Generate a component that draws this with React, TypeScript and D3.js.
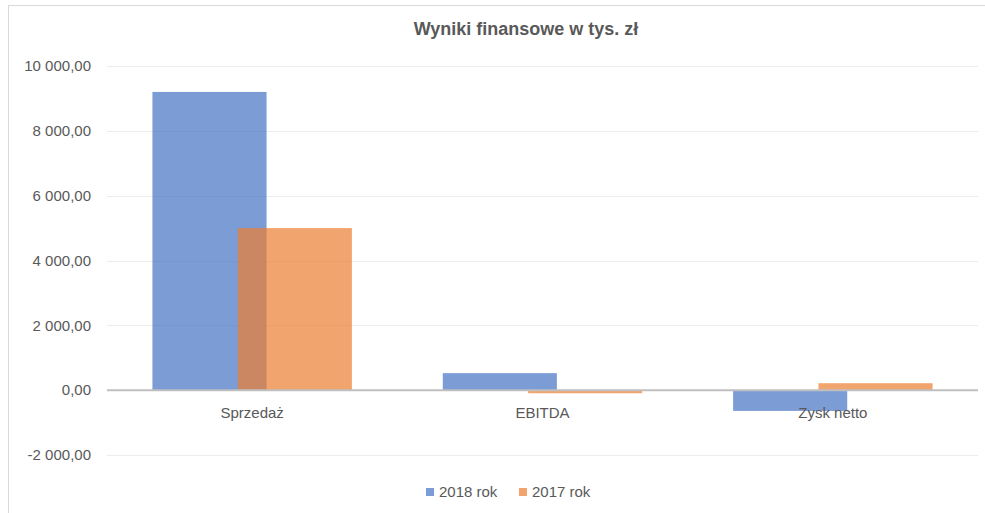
import React from "react";
import * as d3 from "d3";

const categories = ["Sprzedaż", "EBITDA", "Zysk netto"];
const series2018 = [9200, 525, -640];
const series2017 = [5000, -95, 215];
const seriesNames = ["2018 rok", "2017 rok"];
const yTicks = [-2000, 0, 2000, 4000, 6000, 8000, 10000];
const title = "Wyniki finansowe w tys. zł";

const W = 985;
const H = 513;
const plotLeft = 107;
const plotRight = 978;
const yTop = 66;
const yBottom = 455;
const colors = ["#4472C4", "#ED7D31"];
const FONT = "'Liberation Sans', Arial, sans-serif";

function fmt(v: number): string {
  const s = Math.abs(v).toFixed(2).replace(".", ",");
  const [int, dec] = s.split(",");
  const grouped = int.replace(/\B(?=(\d{3})+(?!\d))/g, " ");
  return (v < 0 ? "-" : "") + grouped + "," + dec;
}

export default function App() {
  const x = d3.scaleBand<string>().domain(categories).range([plotLeft, plotRight]).padding(0);
  const y = d3.scaleLinear().domain([-2000, 10000]).range([yBottom, yTop]);
  const step = x.step();
  const barW = step * 0.393;
  const offset = step * 0.147;
  const all = [series2018, series2017];

  return (
    <svg width={W} height={H} style={{ position: "absolute", left: 0, top: 0, background: "#fff" }}>
      <rect x={8.5} y={5.5} width={W} height={H} fill="#fff" stroke="#d9d9d9" strokeWidth={1} />
      <text x={526} y={35} textAnchor="middle" fontFamily={FONT} fontWeight="bold" fontSize={18} fill="#595959">
        {title}
      </text>
      {yTicks.map((t) => (
        <g key={t}>
          {t !== 0 && (
            <line x1={plotLeft} x2={plotRight} y1={Math.round(y(t)) + 0.5} y2={Math.round(y(t)) + 0.5} stroke="#ececec" strokeWidth={1} />
          )}
          <text x={91} y={y(t)} dy="0.35em" textAnchor="end" fontFamily={FONT} fontSize={15} fill="#595959">
            {fmt(t)}
          </text>
        </g>
      ))}
      {all.map((vals, si) =>
        vals.map((v, i) => {
          const cx = (x(categories[i]) as number) + step / 2 + (si === 0 ? -offset : offset);
          const y0 = y(0);
          const yv = y(v);
          return (
            <rect
              key={`${si}-${i}`}
              x={cx - barW / 2}
              width={barW}
              y={Math.min(y0, yv)}
              height={Math.abs(yv - y0)}
              fill={colors[si]}
              fillOpacity={0.7}
            />
          );
        })
      )}
      <line x1={plotLeft} x2={plotRight} y1={y(0)} y2={y(0)} stroke="#bfbfbf" strokeWidth={2} />
      {categories.map((c) => (
        <text key={c} x={(x(c) as number) + step / 2} y={418} textAnchor="middle" fontFamily={FONT} fontSize={15} fill="#595959">
          {c}
        </text>
      ))}
      {seriesNames.map((n, i) => {
        const lx = [426, 519][i];
        return (
          <g key={n}>
            <rect x={lx} y={488} width={8} height={8} fill={colors[i]} fillOpacity={0.7} />
            <text x={lx + 13} y={497} fontFamily={FONT} fontSize={15} fill="#595959">
              {n}
            </text>
          </g>
        );
      })}
    </svg>
  );
}
